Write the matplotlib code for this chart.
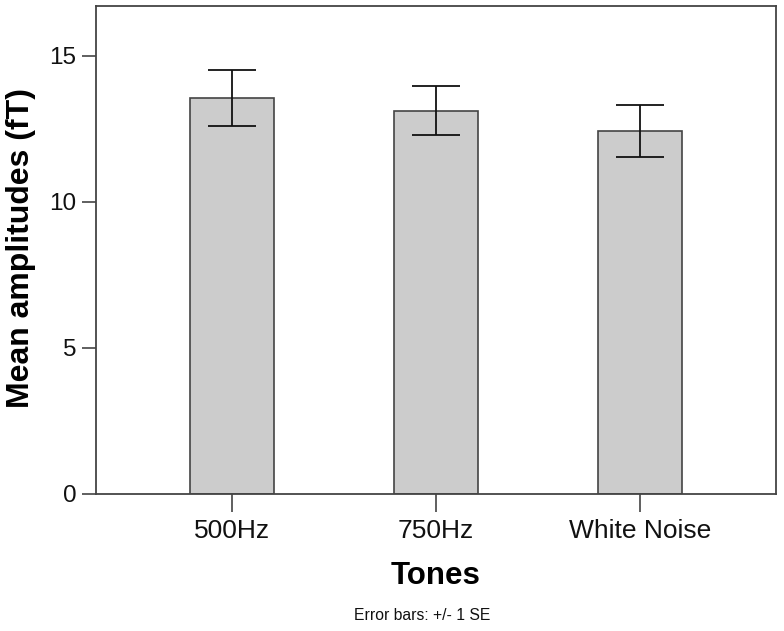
import matplotlib
matplotlib.use('Agg')
import matplotlib.pyplot as plt
import numpy as np

plt.rcParams['font.family'] = ['Liberation Sans', 'DejaVu Sans']

tones = ['500Hz', '750Hz', 'White Noise']
means = [13.55, 13.12, 12.43]
se = [0.96, 0.85, 0.89]
yticks = [0, 5, 10, 15]

fig = plt.figure(figsize=(7.84, 6.31), dpi=100)
ax = fig.add_axes([96/784, 1-494/631, 680/784, 488/631])

x = np.arange(len(tones))
ax.bar(x, means, width=0.41, color='#cccccc', edgecolor='#444444', linewidth=1.2, zorder=2)
ax.errorbar(x, means, yerr=se, fmt='none', ecolor='#111111', elinewidth=1.3,
            capsize=17, capthick=1.3, zorder=3)

ax.set_xlim(-0.667, 2.667)
ax.set_ylim(0, 16.7)
ax.set_yticks(yticks)
ax.set_xticks(x)
ax.set_xticklabels(tones)

for s in ax.spines.values():
    s.set_color('#444444')
    s.set_linewidth(1.3)

ax.tick_params(axis='y', length=10, width=1.2, color='#444444', labelsize=17.5, pad=4, labelcolor='#111111')
ax.tick_params(axis='x', length=13, width=1.2, color='#444444', labelsize=19, pad=5, labelcolor='#111111')

ax.set_ylabel('Mean amplitudes (fT)', fontsize=23, fontweight='bold', va='center')
ax.yaxis.set_label_coords(-0.11, 0.505)
ax.set_xlabel('Tones', fontsize=22.5, fontweight='bold', va='center')
ax.xaxis.set_label_coords(0.5, -0.168)

fig.text(422/784, 1-616/631, 'Error bars: +/- 1 SE', fontsize=11.3, ha='center', va='center', color='#111111')

fig.savefig('out.png', dpi=100)
